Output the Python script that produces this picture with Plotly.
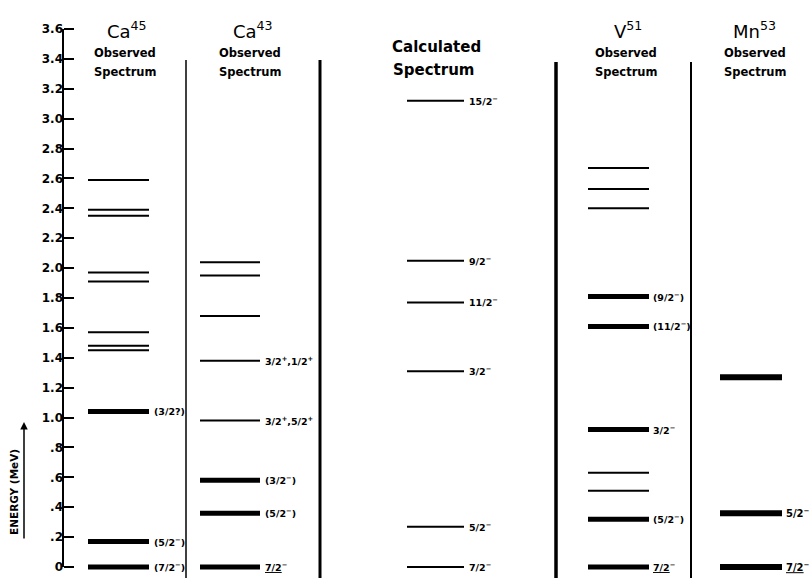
import plotly.graph_objects as go

W, H = 811, 578
# pixel calibration of the energy axis
PX_E0, PX_E36 = 567, 29
E_TOP = 3.6
px_per = (PX_E0 - PX_E36) / E_TOP
y_min = -(H - PX_E0) / px_per
y_max = PX_E0 / px_per

# ---------------- data ----------------
tick_vals = [0, 0.2, 0.4, 0.6, 0.8, 1.0, 1.2, 1.4, 1.6, 1.8, 2.0, 2.2, 2.4, 2.6, 2.8, 3.0, 3.2, 3.4, 3.6]
tick_text = ["0", ".2", ".4", ".6", ".8", "1.0", "1.2", "1.4", "1.6", "1.8", "2.0", "2.2", "2.4", "2.6", "2.8", "3.0", "3.2", "3.4", "3.6"]

ca45_energy = [0.0, 0.17, 1.04, 1.45, 1.48, 1.57, 1.91, 1.97, 2.35, 2.39, 2.59]
ca45_thick = [True, True, True, False, False, False, False, False, False, False, False]
ca45_label = ["(7/2<sup>−</sup>)", "(5/2<sup>−</sup>)", "(3/2?)", "", "", "", "", "", "", "", ""]

ca43_energy = [0.0, 0.36, 0.58, 0.98, 1.38, 1.68, 1.95, 2.04]
ca43_thick = [True, True, True, False, False, False, False, False]
ca43_label = ["<u>7/2</u><sup>−</sup>", "(5/2<sup>−</sup>)", "(3/2<sup>−</sup>)",
              "3/2<sup>+</sup>,5/2<sup>+</sup>", "3/2<sup>+</sup>,1/2<sup>+</sup>", "", "", ""]

calc_energy = [0.0, 0.27, 1.31, 1.77, 2.05, 3.12]
calc_thick = [False, False, False, False, False, False]
calc_label = ["7/2<sup>−</sup>", "5/2<sup>−</sup>", "3/2<sup>−</sup>", "11/2<sup>−</sup>",
              "9/2<sup>−</sup>", "15/2<sup>−</sup>"]

v51_energy = [0.0, 0.32, 0.51, 0.63, 0.92, 1.61, 1.81, 2.40, 2.53, 2.67]
v51_thick = [True, True, False, False, True, True, True, False, False, False]
v51_label = ["<u>7/2</u><sup>−</sup>", "(5/2<sup>−</sup>)", "", "", "3/2<sup>−</sup>",
             "(11/2<sup>−</sup>)", "(9/2<sup>−</sup>)", "", "", ""]

mn53_energy = [0.0, 0.36, 1.27]
mn53_thick = [True, True, True]
mn53_label = ["<u>7/2</u><sup>−</sup>", "5/2<sup>−</sup>", ""]

# ---------------- layout helpers ----------------
columns = [
    dict(e=ca45_energy, t=ca45_thick, l=ca45_label, x0=88, x1=149, thin=2, thick=5, lsize=9.5, gap=3),
    dict(e=ca43_energy, t=ca43_thick, l=ca43_label, x0=200, x1=260, thin=2, thick=5, lsize=9.5, gap=3),
    dict(e=calc_energy, t=calc_thick, l=calc_label, x0=407, x1=464, thin=2, thick=5, lsize=9.5, gap=3),
    dict(e=v51_energy, t=v51_thick, l=v51_label, x0=588, x1=649, thin=2, thick=5, lsize=9.5, gap=2),
    dict(e=mn53_energy, t=mn53_thick, l=mn53_label, x0=720, x1=782, thin=2, thick=6, lsize=10, gap=2),
]

FONT = "DejaVu Sans"
fig = go.Figure()
annotations = []

for col in columns:
    for thick_flag in (False, True):
        xs, ys = [], []
        for e, t in zip(col["e"], col["t"]):
            if t == thick_flag:
                xs += [col["x0"], col["x1"], None]
                ys += [e, e, None]
        if xs:
            fig.add_trace(go.Scatter(
                x=xs, y=ys, mode="lines",
                line=dict(color="black", width=col["thick"] if thick_flag else col["thin"]),
                hoverinfo="skip", showlegend=False))
    for e, lab in zip(col["e"], col["l"]):
        if lab:
            annotations.append(dict(
                x=col["x1"] + col["gap"], y=e, xref="x", yref="y", text=lab, showarrow=False,
                xanchor="left", yanchor="middle",
                font=dict(family=FONT, size=col["lsize"], color="black", weight="bold")))

# axis line
fig.add_trace(go.Scatter(x=[63, 63], y=[0, E_TOP], mode="lines",
                         line=dict(color="black", width=2), hoverinfo="skip", showlegend=False))

# column dividers
dividers = [(186, 60, 1.5), (320, 60, 3), (556, 62, 3.5), (691, 62, 2)]
shapes = []
for x, top, w in dividers:
    shapes.append(dict(type="line", xref="x", yref="paper", x0=x, x1=x,
                       y0=0, y1=1 - top / H, line=dict(color="black", width=w)))

def py(p):
    return 1 - p / H

titles = [
    ("Ca<sup>45</sup>", 127, 30, 18, "normal"), ("Observed", 125, 53, 11.5, "bold"), ("Spectrum", 125, 72, 11.5, "bold"),
    ("Ca<sup>43</sup>", 253, 30, 18, "normal"), ("Observed", 250, 53, 11.5, "bold"), ("Spectrum", 250, 72, 11.5, "bold"),
    ("Calculated", 436, 47, 15, "bold"), ("Spectrum", 433, 70, 15, "bold"),
    ("V<sup>51</sup>", 628, 30, 18, "normal"), ("Observed", 626, 53, 11.5, "bold"), ("Spectrum", 626, 72, 11.5, "bold"),
    ("Mn<sup>53</sup>", 754, 30, 18, "normal"), ("Observed", 755, 53, 11.5, "bold"), ("Spectrum", 755, 72, 11.5, "bold"),
]
for txt, x, y, s, wgt in titles:
    annotations.append(dict(x=x, y=py(y), xref="x", yref="paper", text=txt, showarrow=False,
                            xanchor="center", yanchor="middle",
                            font=dict(family=FONT, size=s, color="black", weight=wgt)))

# axis title with arrow
annotations.append(dict(x=14, y=py(492), xref="x", yref="paper", text="ENERGY (MeV)",
                        showarrow=False, textangle=-90, xanchor="center", yanchor="middle",
                        font=dict(family=FONT, size=10.5, color="black", weight="bold")))
annotations.append(dict(x=24, y=py(422), xref="x", yref="paper", ax=0, ay=118,
                        axref="pixel", ayref="pixel", text="", showarrow=True,
                        arrowhead=2, arrowsize=1, arrowwidth=1.5, arrowcolor="black"))

fig.update_layout(
    width=W, height=H, margin=dict(l=0, r=0, t=0, b=0),
    paper_bgcolor="white", plot_bgcolor="white",
    xaxis=dict(range=[0, W], visible=False, fixedrange=True),
    yaxis=dict(range=[y_min, y_max], domain=[0, 1], anchor="free", position=63 / W,
               tickvals=tick_vals, ticktext=tick_text, ticks="inside", ticklen=10,
               tickwidth=2, tickcolor="black", showline=False, showgrid=False,
               zeroline=False, tickfont=dict(family=FONT, size=12, color="black", weight="bold")),
    shapes=shapes, annotations=annotations, showlegend=False,
)

fig.write_html("out.html")
